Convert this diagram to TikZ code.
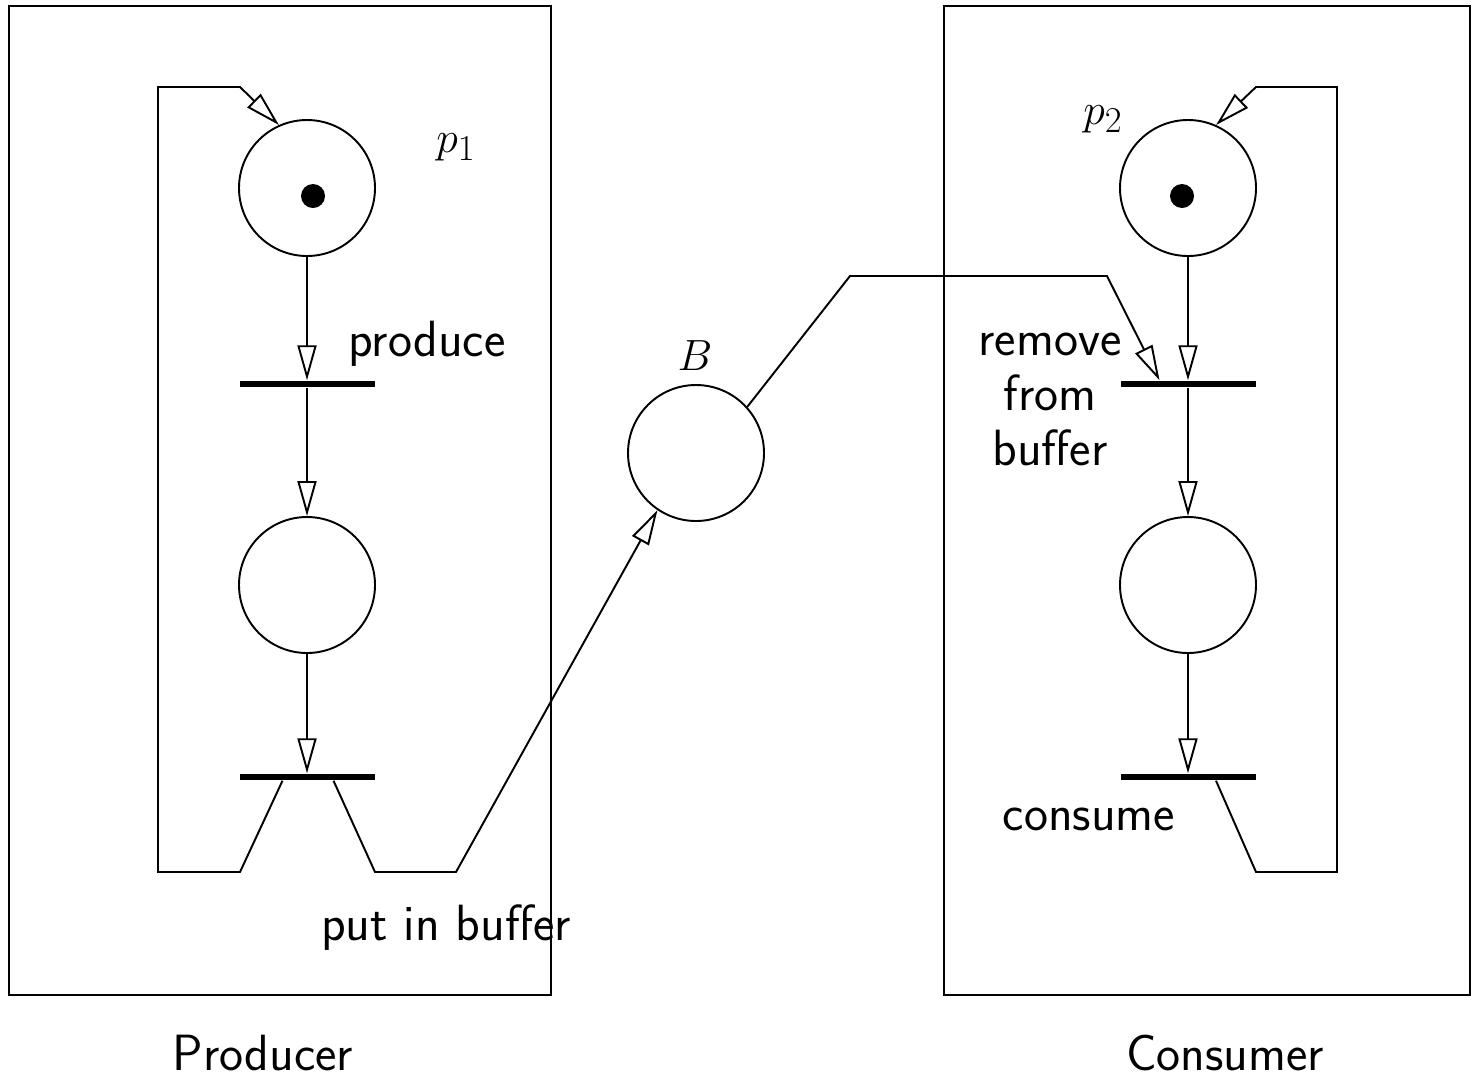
\documentclass[tikz,border=0pt]{standalone}
\usepackage{amsmath, amssymb}
\usepackage{tikz}
\usetikzlibrary{arrows.meta, positioning, calc}

\begin{document}
\begin{tikzpicture}[line width=1.1pt,
        every node/.style={font=\fontsize{29}{31.3}\selectfont\sffamily},
        place/.style={circle, draw, minimum size=2.72cm, inner sep=0pt},
        token/.style={circle, fill=black, minimum size=0.48cm, inner sep=0pt},
        trans/.style={rectangle, fill=black, minimum width=2.7cm, minimum height=0.11cm, inner sep=0pt},
        arc/.style={draw, -{Triangle[open, length=0.7cm, width=0.38cm]}},
        frame/.style={draw},
        caption/.style={inner sep=0pt, anchor=base}]
        \useasboundingbox (0,0) rectangle (29.42,-21.64);

        % Rahmen
        \draw [frame] (0.18,-0.12) rectangle (11.02,-19.9);
        \draw [frame] (18.88,-0.12) rectangle (29.4,-19.9);
        \node [caption] (producer) at (5.26,-21.4) {Producer};
        \node [caption] (consumer) at (24.5,-21.4) {Consumer};

        % Produzent
        \node [place] (p1) at (6.14,-3.76) {};
        \node [token] (tok1) at (6.26,-3.92) {};
        \node [trans] (produce) at (6.14,-7.68) {};
        \node [place] (w1) at (6.14,-11.7) {};
        \node [trans] (put) at (6.14,-15.54) {};

        % Puffer
        \node [place] (B) at (13.92,-9.06) {};

        % Konsument
        \node [place] (p2) at (23.76,-3.76) {};
        \node [token] (tok2) at (23.64,-3.92) {};
        \node [trans] (remove) at (23.76,-7.68) {};
        \node [place] (w2) at (23.76,-11.7) {};
        \node [trans] (consume) at (23.76,-15.54) {};

        % Beschriftungen
        \node (lp1) at (9.12,-2.94) {$p_1$};
        \node (lproduce) at (8.54,-6.88) {produce};
        \node (lput) at (8.92,-18.56) {put in buffer};
        \node (lB) at (13.9,-7.12) {$B$};
        \node (lp2) at (22.06,-2.38) {$p_2$};
        \node [align=center] (lremove) at (21,-7.98) {remove\\from\\buffer};
        \node (lconsume) at (21.78,-16.38) {consume};

        % Kanten
        \path [arc] (p1) -- (produce);
        \path [arc] (produce) -- (w1);
        \path [arc] (w1) -- (put);
        \path [arc] ([xshift=-0.49cm]put.south) -- (4.8,-17.44) -- (3.16,-17.44)
            -- (3.16,-1.74) -- (4.8,-1.74) -- (p1.114);
        \path [arc] ([xshift=0.53cm]put.south) -- (7.5,-17.44) -- (9.12,-17.44) -- (B.236);
        \path [arc] (B.42) -- (17,-5.52) -- (22.14,-5.52) -- ([xshift=-0.57cm]remove.north);
        \path [arc] (p2) -- (remove);
        \path [arc] (remove) -- (w2);
        \path [arc] (w2) -- (consume);
        \path [arc] ([xshift=0.56cm]consume.south) -- (25.12,-17.44) -- (26.74,-17.44)
            -- (26.74,-1.74) -- (25.12,-1.74) -- (p2.66);
\end{tikzpicture}
\end{document}
